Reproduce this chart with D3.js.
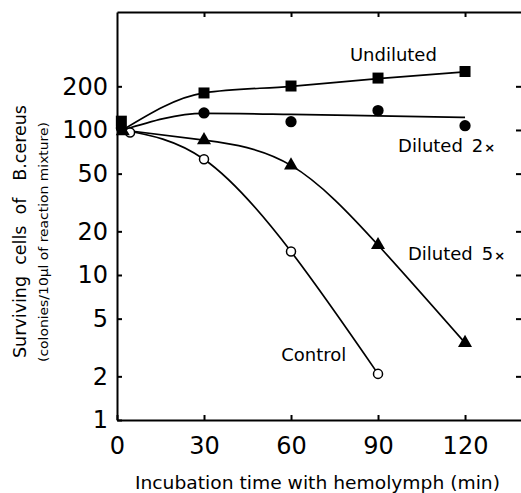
<!DOCTYPE html>
<meta charset="utf-8">
<head>
<title>Surviving cells of B. cereus</title>
<style>
  body { margin: 0; background: #fff; }
  text { font-family: "DejaVu Sans", sans-serif; fill: #000; }
</style>
</head>
<body>
<div id="my_dataviz"></div>
<script src="https://d3js.org/d3.v7.min.js"></script>
<script>

// tick values
var timeTicks = [0, 30, 60, 90, 120];
var countTicks = [1, 2, 5, 10, 20, 50, 100, 200];

// measured points: incubation time (min) and surviving cells
var undilutedT = [1.5, 30, 60, 90, 120];
var undilutedV = [115, 180, 201, 228, 253];
var diluted2T = [1.5, 30, 60, 90, 120];
var diluted2V = [103, 131, 114, 136, 107];
var diluted5T = [2, 30, 60, 90, 120];
var diluted5V = [98, 85, 57, 16.1, 3.4];
var controlT = [4.5, 30, 60, 90];
var controlV = [96, 62.8, 14.5, 2.08];

// drawn-by-hand fit lines
var fitT = [2, 30, 60, 90, 120];
var undilutedFit = [100, 180, 200, 226, 252];
var diluted2Fit = [100, 130, 128, 125, 122];
var diluted5Fit = [100, 85, 57, 16.1, 3.4];
var controlFit = [100, 62.8, 14.5, 2.08];

// curve labels (time, count where the text sits)
var labelText = ["Undiluted", "Diluted", "Diluted", "Control"];
var labelSuffix = ["", "2", "5", ""];
var labelT = [80.3, 96.9, 100.3, 56.6];
var labelV = [301, 70.9, 12.7, 2.56];

var W = 521, H = 493;

var svg = d3.select("#my_dataviz")
    .append("svg")
    .attr("width", W)
    .attr("height", H);

var x = d3.scaleLinear()
    .domain([0, 139.3])
    .range([117, 521]);

var y = d3.scaleLog()
    .domain([1, 651])
    .range([420, 12]);

// axes - ticks point inward
svg.append("g")
    .attr("transform", "translate(117,0)")
    .call(d3.axisLeft(y).tickValues(countTicks).tickFormat(d3.format("d"))
        .tickSize(-5).tickSizeOuter(0).tickPadding(9));

svg.append("g")
    .attr("transform", "translate(0,420)")
    .call(d3.axisBottom(x).tickValues(timeTicks)
        .tickSize(-5).tickSizeOuter(0).tickPadding(17));

svg.append("g")
    .attr("transform", "translate(0,12)")
    .call(d3.axisTop(x).tickValues(timeTicks.slice(1)).tickFormat("")
        .tickSize(-5).tickSizeOuter(0));

var rightAxis = svg.append("g")
    .attr("transform", "translate(521,0)")
    .call(d3.axisRight(y).tickValues(countTicks.slice(1)).tickFormat("")
        .tickSize(-5).tickSizeOuter(0));
rightAxis.select(".domain").remove();

svg.selectAll(".domain, .tick line")
    .attr("stroke", "#000")
    .attr("stroke-width", 2);

svg.selectAll(".tick text")
    .style("font-family", "DejaVu Sans, sans-serif")
    .style("font-size", "24px")
    .attr("fill", "#000");

// fit lines
var lineFlat = d3.line()
    .x(function(d) { return x(d[0]); })
    .y(function(d) { return y(d[1]); })
    .curve(d3.curveMonotoneX);
var lineBent = d3.line()
    .x(function(d) { return x(d[0]); })
    .y(function(d) { return y(d[1]); })
    .curve(d3.curveNatural);

[[undilutedFit, lineFlat], [diluted2Fit, lineFlat], [diluted5Fit, lineBent], [controlFit, lineBent]].forEach(function(s) {
    var pts = s[0].map(function(v, i) { return [fitT[i], v]; });
    svg.append("path")
        .attr("d", s[1](pts))
        .attr("fill", "none")
        .attr("stroke", "#000")
        .attr("stroke-width", 1.7);
});

// markers
function drawMarkers(ts, vs, type, size, filled) {
    var pts = ts.map(function(t, i) { return [t, vs[i]]; });
    svg.selectAll(null)
        .data(pts)
        .enter()
        .append("path")
        .attr("transform", function(d) { return "translate(" + x(d[0]) + "," + y(d[1]) + ")"; })
        .attr("d", d3.symbol().type(type).size(size))
        .attr("fill", filled ? "#000" : "#fff")
        .attr("stroke", "#000")
        .attr("stroke-width", filled ? 0 : 1.5);
}

drawMarkers(controlT, controlV, d3.symbolCircle, 64, false);
drawMarkers(diluted5T, diluted5V, d3.symbolTriangle, 85, true);
drawMarkers(diluted2T, diluted2V, d3.symbolCircle, 100, true);
drawMarkers(undilutedT, undilutedV, d3.symbolSquare, 121, true);

// curve labels
labelText.forEach(function(txt, i) {
    var t = svg.append("text")
        .attr("x", x(labelT[i]))
        .attr("y", y(labelV[i]))
        .style("font-size", "18px")
        .text(txt);
    if (labelSuffix[i]) {
        t.append("tspan")
            .attr("dx", 9)
            .text(labelSuffix[i]);
        t.append("tspan")
            .attr("dx", 1)
            .style("font-size", "13px")
            .style("font-weight", "bold")
            .text("×");
    }
});

// axis titles
svg.append("text")
    .attr("transform", "translate(26,231.5) rotate(-90)")
    .attr("text-anchor", "middle")
    .attr("textLength", 253)
    .attr("lengthAdjust", "spacingAndGlyphs")
    .style("font-size", "18px")
    .style("white-space", "pre")
    .text("Surviving  cells  of   B.cereus");

svg.append("text")
    .attr("transform", "translate(48,242) rotate(-90)")
    .attr("text-anchor", "middle")
    .attr("textLength", 240)
    .attr("lengthAdjust", "spacingAndGlyphs")
    .style("font-size", "13px")
    .text("(colonies/10µl of reaction mixture)");

svg.append("text")
    .attr("x", 317.5)
    .attr("y", 489)
    .attr("text-anchor", "middle")
    .attr("textLength", 365)
    .attr("lengthAdjust", "spacingAndGlyphs")
    .style("font-size", "17px")
    .text("Incubation time with hemolymph (min)");

</script>
</body>
